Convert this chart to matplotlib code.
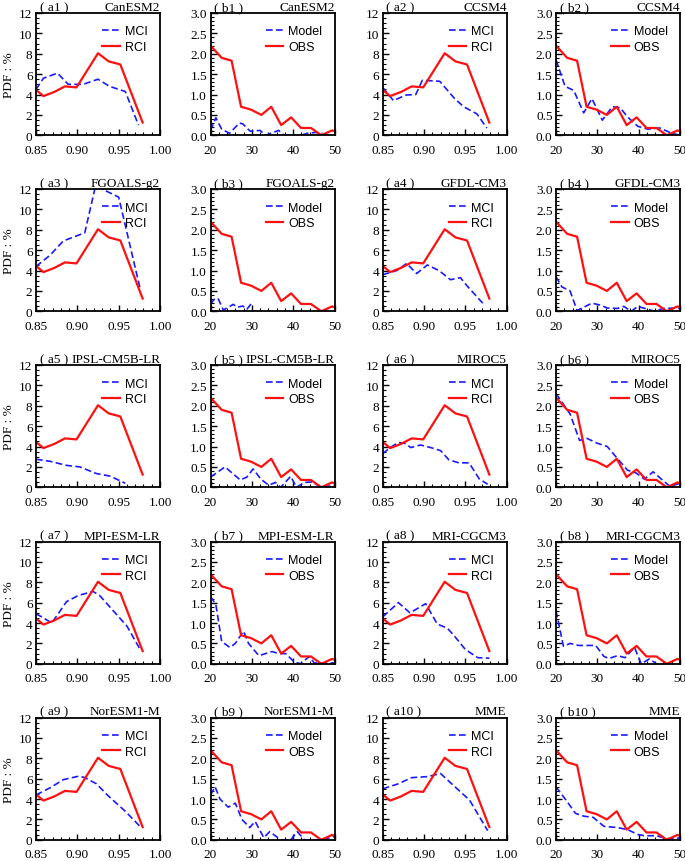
import matplotlib
matplotlib.use("Agg")
import matplotlib.pyplot as plt
from matplotlib.ticker import MultipleLocator

plt.rcParams.update({
    "font.family": "Liberation Serif",
    "font.size": 9,
    "xtick.direction": "in",
    "ytick.direction": "in",
    "axes.linewidth": 1.3,
})

models = ["CanESM2", "CCSM4", "FGOALS-g2", "GFDL-CM3", "IPSL-CM5B-LR",
          "MIROC5", "MPI-ESM-LR", "MRI-CGCM3", "NorESM1-M", "MME"]

# observed (reanalysis) curves, same in every panel
rci_x = [0.85, 0.859, 0.872, 0.885, 0.899, 0.925, 0.938, 0.952, 0.979]
rci_y = [4.45, 3.85, 4.25, 4.8, 4.7, 8.05, 7.25, 6.95, 1.25]
obs_x = [20, 22.7, 25.1, 27.4, 29.8, 32.3, 34.7, 37.1, 39.5, 41.9, 44.3, 46.8, 49.4, 50]
obs_y = [2.2, 1.9, 1.83, 0.7, 0.63, 0.5, 0.7, 0.25, 0.44, 0.18, 0.18, 0.0, 0.12, 0.1]

# model MCI curves (left panels)
mci_x = [
    [0.85, 0.859, 0.876, 0.889, 0.907, 0.925, 0.939, 0.958, 0.974],
    [0.85, 0.863, 0.878, 0.89, 0.898, 0.919, 0.937, 0.948, 0.964, 0.976],
    [0.85, 0.867, 0.883, 0.899, 0.909, 0.922, 0.935, 0.95, 0.976],
    [0.85, 0.857, 0.867, 0.879, 0.891, 0.904, 0.918, 0.932, 0.944, 0.952, 0.971],
    [0.85, 0.867, 0.887, 0.903, 0.923, 0.9395, 0.958],
    [0.85, 0.859, 0.869, 0.877, 0.884, 0.8955, 0.908, 0.92, 0.93, 0.942, 0.9545, 0.967, 0.977],
    [0.85, 0.857, 0.869, 0.887, 0.901, 0.919, 0.927, 0.9435, 0.96, 0.976],
    [0.85, 0.869, 0.883, 0.902, 0.916, 0.928, 0.936, 0.95, 0.965, 0.979],
    [0.85, 0.867, 0.883, 0.902, 0.909, 0.923, 0.9375, 0.958, 0.976],
    [0.85, 0.869, 0.885, 0.904, 0.92, 0.936, 0.955, 0.977],
]
mci_y = [
    [4.5, 5.6, 6.1, 5.0, 5.0, 5.5, 4.8, 4.3, 1.0],
    [4.7, 3.4, 3.95, 4.0, 5.4, 5.3, 3.6, 2.8, 2.1, 0.7],
    [4.4, 5.5, 6.9, 7.4, 7.7, 12.3, 11.8, 11.2, 2.2],
    [3.6, 3.75, 4.0, 4.7, 3.7, 4.55, 4.0, 3.1, 3.3, 2.5, 0.8],
    [2.75, 2.55, 2.15, 2.0, 1.35, 1.1, 0.4],
    [3.3, 3.9, 4.4, 4.3, 3.9, 4.15, 3.9, 3.6, 2.7, 2.4, 2.4, 0.8, 0.3],
    [4.9, 4.6, 4.0, 6.1, 6.7, 7.1, 6.7, 5.2, 3.7, 1.4],
    [4.6, 6.0, 5.0, 5.9, 3.9, 3.5, 2.8, 1.4, 0.6, 0.55],
    [4.4, 5.1, 5.9, 6.25, 6.1, 5.5, 4.3, 2.8, 1.3],
    [5.0, 5.5, 6.1, 6.2, 6.5, 5.3, 3.9, 0.9],
]

# model duration curves (right panels)
mod_x = [
    [20, 21.3, 22.7, 24.6, 27, 27.8, 29.6, 32, 33.3, 36.5, 37.8, 41.8, 43.5, 45.5, 47.1],
    [20, 22.2, 24.3, 26.7, 28.7, 31.2, 33.6, 35.5, 37.3, 39.8, 42.2, 45.1, 48, 50],
    [20, 21.1, 21.9, 23.1, 25.5, 26.5, 27.8, 28.8, 29.8],
    [20, 21.4, 23.4, 25.1, 26.7, 28.7, 30.8, 32.4, 34.9, 36.4, 38.2, 39.8, 42.2, 43.9, 45.9, 48.8, 50],
    [20, 23.5, 27.2, 28.8, 30.3, 32.2, 34.1, 35.7, 37.0, 39.4, 40.8, 42.7, 44.7, 46.7, 50],
    [20, 23.4, 25.7, 27.5, 30.0, 32.4, 34.9, 37.3, 39.4, 41.4, 43.5, 45.5, 47.6, 50],
    [20, 21.3, 22.7, 24.7, 26.0, 28, 29.2, 31.7, 34.9, 36.5, 38.2, 40.2, 41.8, 43.9, 45.1, 50],
    [20, 21.8, 23.4, 25.5, 27.9, 29.6, 31.6, 32.8, 34.9, 36.7, 39.0, 40.6, 42.6, 44.3],
    [20, 21.1, 22.3, 24.3, 26, 27.6, 29.5, 30.8, 32.9, 34.3, 37.0, 39.4, 41.0, 42.7, 47, 50],
    [20, 22.6, 24.7, 26.7, 29.0, 31.6, 34.9, 37.3, 39.8, 41.4, 44.3, 46.7, 48.8, 50],
]
mod_y = [
    [0.12, 0.43, 0.15, 0.05, 0.3, 0.28, 0.1, 0.12, 0.0, 0.12, 0.0, 0.0, 0.05, 0.07, 0.05],
    [1.85, 1.2, 1.1, 0.55, 0.9, 0.37, 0.7, 0.68, 0.45, 0.22, 0.15, 0.18, 0.05, 0.0],
    [0.18, 0.32, 0.3, 0.03, 0.17, 0.1, 0.13, 0.05, 0.18],
    [0.85, 0.6, 0.5, 0.02, 0.1, 0.2, 0.15, 0.08, 0.07, 0.12, 0.0, 0.12, 0.05, 0.0, 0.07, 0.08, 0.07],
    [0.25, 0.5, 0.18, 0.25, 0.45, 0.2, 0.05, 0.12, 0.0, 0.27, 0.0, 0.12, 0.13, 0.0, 0.05],
    [2.3, 1.8, 1.15, 1.2, 1.08, 1.0, 0.7, 0.42, 0.35, 0.2, 0.38, 0.2, 0.02, 0.1],
    [1.65, 1.45, 0.55, 0.4, 0.5, 0.8, 0.5, 0.2, 0.3, 0.25, 0.25, 0.05, 0.0, 0.18, 0.02, 0.02],
    [1.3, 0.43, 0.5, 0.45, 0.45, 0.45, 0.18, 0.13, 0.2, 0.15, 0.4, 0.0, 0.12, 0.0],
    [1.1, 1.3, 1.0, 0.8, 0.9, 0.5, 0.3, 0.45, 0.05, 0.2, 0.0, 0.0, 0.2, 0.0, 0.0, 0.08],
    [1.3, 0.95, 0.65, 0.58, 0.55, 0.33, 0.3, 0.25, 0.13, 0.1, 0.1, 0.03, 0.03, 0.05],
]

W, H = 685, 862
fig = plt.figure(figsize=(W / 100, H / 100), dpi=100)

col_left = [36, 210.5, 382.7, 556]
row_top = [14, 190, 366, 542.5, 718.5]
aw, ah = 124, 122.3

red = "#ff1010"
blue = "#1a1aff"

for i, name in enumerate(models):
    r = i // 2
    c0 = (i % 2) * 2
    for k in range(2):
        c = c0 + k
        ax = fig.add_axes([col_left[c] / W, (H - row_top[r] - ah) / H, aw / W, ah / H])
        if k == 0:
            ax.plot(mci_x[i], mci_y[i], color=blue, lw=1.2, dashes=(4, 2), label="MCI")
            ax.plot(rci_x, rci_y, color=red, lw=1.6, label="RCI")
            ax.set_xlim(0.85, 1.0)
            ax.set_ylim(0, 12)
            ax.xaxis.set_major_locator(MultipleLocator(0.05))
            ax.xaxis.set_minor_locator(MultipleLocator(0.01))
            ax.yaxis.set_major_locator(MultipleLocator(2))
            ax.yaxis.set_minor_locator(MultipleLocator(0.5))
            ax.xaxis.set_major_formatter(matplotlib.ticker.FormatStrFormatter("%.2f"))
            tag = "a%d" % (i + 1)
        else:
            ax.plot(mod_x[i], mod_y[i], color=blue, lw=1.2, dashes=(4, 2), label="Model")
            ax.plot(obs_x, obs_y, color=red, lw=1.6, label="OBS")
            ax.set_xlim(20, 50)
            ax.set_ylim(0, 3)
            ax.xaxis.set_major_locator(MultipleLocator(10))
            ax.xaxis.set_minor_locator(MultipleLocator(2))
            ax.yaxis.set_major_locator(MultipleLocator(0.5))
            ax.yaxis.set_minor_locator(MultipleLocator(0.1))
            ax.yaxis.set_major_formatter(matplotlib.ticker.FormatStrFormatter("%.1f"))
            tag = "b%d" % (i + 1)
        ax.tick_params(which="major", length=4, width=1, labelsize=9.5,
                       top=False, right=False)
        ax.tick_params(which="minor", length=2, width=0.8, top=False, right=False)
        ax.tick_params(axis="x", pad=6)
        ax.tick_params(axis="y", pad=2.5)
        ax.set_title("( %s )" % tag, loc="left", fontsize=9.5, pad=2, x=0.03)
        ax.set_title(name, loc="right", fontsize=9.5, pad=2)
        ax.legend(loc="upper right", frameon=False, handlelength=1.4,
                  handletextpad=0.4, prop={"family": "Liberation Sans", "size": 9},
                  labelspacing=0.3, borderaxespad=0.6)
        if c == 0:
            ax.set_ylabel("PDF : %", fontsize=9.5, labelpad=3)

fig.savefig("out.png", dpi=100)
